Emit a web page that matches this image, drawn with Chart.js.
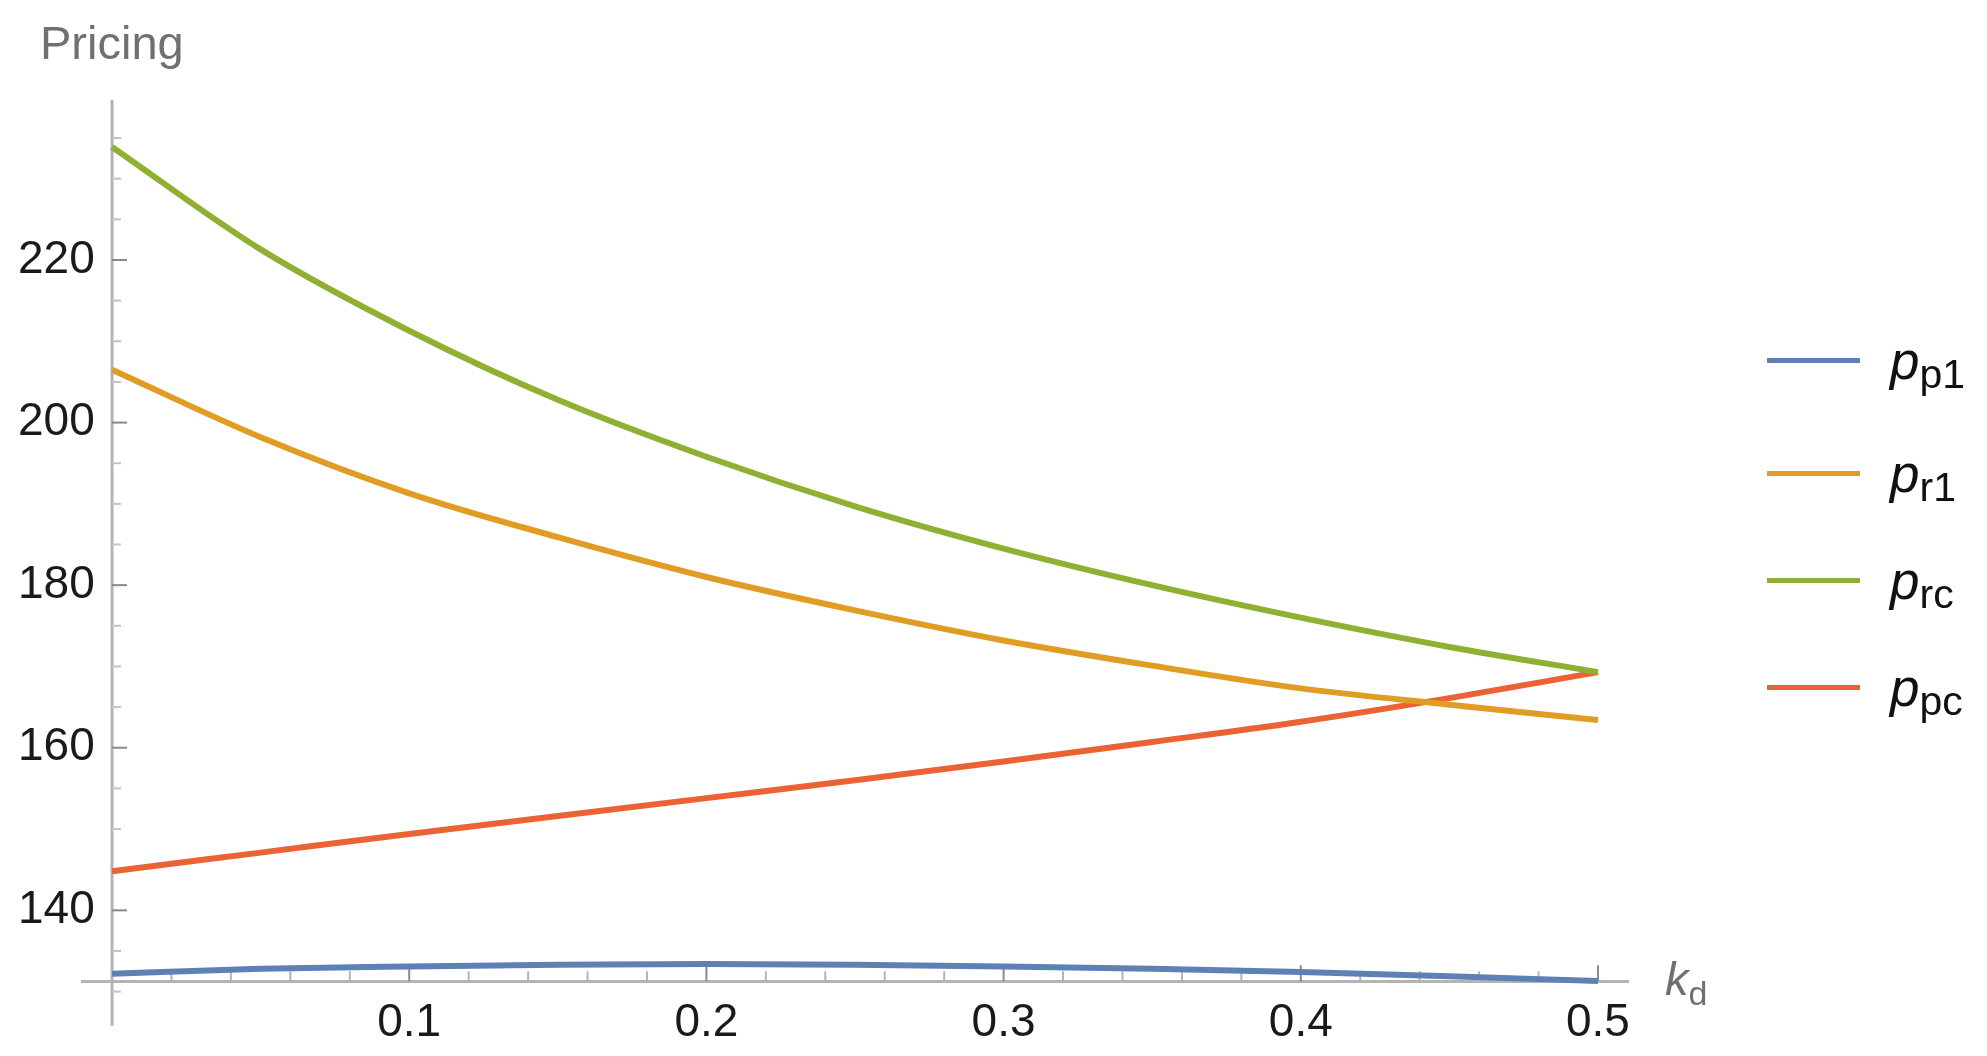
<!DOCTYPE html>
<html>
<head>
<meta charset="utf-8">
<script src="https://cdn.jsdelivr.net/npm/chart.js@4.4.1/dist/chart.umd.min.js"></script>
<style>
  body { margin: 0; background: #fff; font-family: "Liberation Sans", Arial, sans-serif; }
  #wrap { position: relative; width: 1987px; height: 1056px; }
  #chart { position: absolute; left: 0; top: 0; }
  .lbl { position: absolute; color: #707070; line-height: 1; white-space: nowrap; }
  .row { position: absolute; left: 1767px; height: 60px; display: flex; align-items: center; }
  .row .ln { width: 93px; height: 5px; margin-right: 30px; }
  .row .tx { font-size: 53px; font-style: italic; color: #111; line-height: 1; }
  .row .tx sub { font-size: 41px; font-style: normal; position: relative; top: 9px; vertical-align: baseline; }
</style>
</head>
<body>
<div id="wrap">
  <canvas id="chart" width="1987" height="1056"></canvas>
  <div class="lbl" style="left:40px;top:19px;font-size:47px;">Pricing</div>
  <div class="lbl" style="left:1665px;top:955px;font-size:47px;font-style:italic;">k<sub style="font-size:34px;font-style:normal;position:relative;top:10px;vertical-align:baseline;">d</sub></div>
  <div id="legend"></div>
</div>
<script>
  // values, k_d from 0 to 0.5
  const kd = [0, 0.05, 0.1, 0.15, 0.2, 0.25, 0.3, 0.35, 0.4, 0.45, 0.5];
  const pp1 = [132.2, 132.8, 133.1, 133.3, 133.4, 133.3, 133.1, 132.8, 132.4, 131.9, 131.3];
  const pr1 = [206.5, 198.2, 191.3, 185.9, 181.0, 176.9, 173.2, 170.1, 167.3, 165.3, 163.4];
  const prc = [233.9, 221.3, 211.3, 202.8, 195.8, 189.7, 184.5, 180.0, 176.0, 172.4, 169.3];
  const ppc = [144.8, 147.1, 149.4, 151.6, 153.8, 156.0, 158.3, 160.7, 163.2, 166.1, 169.3];

  const seriesNames = ['p1', 'r1', 'rc', 'pc'];
  const seriesColors = ['#5e81b5', '#e19c24', '#8fb032', '#eb6235'];
  const yTicks = [140, 160, 180, 200, 220];
  const xTicks = [0.1, 0.2, 0.3, 0.4, 0.5];
  const xAxisAt = 131.27;

  const pts = ys => kd.map((x, i) => ({x: x, y: ys[i]}));

  // y axis line and Mathematica-like tick marks drawn inward from the axes
  const axisTicks = {
    id: 'axisTicks',
    beforeDatasetsDraw(chart) {
      const {ctx, chartArea, scales: {x, y}} = chart;
      const x0 = x.getPixelForValue(0);
      const y0 = y.getPixelForValue(xAxisAt);
      ctx.save();
      ctx.strokeStyle = '#b4b4b4';
      ctx.lineWidth = 3;
      ctx.beginPath();
      ctx.moveTo(x0, chartArea.top);
      ctx.lineTo(x0, chartArea.bottom);
      ctx.stroke();
      ctx.lineWidth = 2;
      for (let v = 130; v <= 235; v += 5) {
        const py = y.getPixelForValue(v);
        const major = v % 20 === 0;
        ctx.strokeStyle = major ? '#8a8a8a' : '#c4c4c4';
        ctx.beginPath();
        ctx.moveTo(x0, py);
        ctx.lineTo(x0 + (major ? 15 : 9), py);
        ctx.stroke();
      }
      for (let i = 1; i <= 25; i++) {
        const px = x.getPixelForValue(i * 0.02);
        const major = i % 5 === 0;
        ctx.strokeStyle = major ? '#8a8a8a' : '#b4b4b4';
        ctx.beginPath();
        ctx.moveTo(px, y0);
        ctx.lineTo(px, y0 - (major ? 16 : 10));
        ctx.stroke();
      }
      ctx.restore();
    }
  };

  const tickFont = {family: '"Liberation Sans", Arial, sans-serif', size: 46};

  const chart = new Chart(document.getElementById('chart'), {
    type: 'line',
    data: {
      datasets: [pp1, pr1, prc, ppc].map((ys, i) => ({
        label: 'p' + seriesNames[i],
        data: pts(ys),
        borderColor: seriesColors[i],
        borderWidth: 6,
        pointRadius: 0,
        fill: false,
        cubicInterpolationMode: 'monotone'
      }))
    },
    options: {
      responsive: false,
      animation: false,
      layout: { padding: {left: 82, top: 100, right: 359, bottom: 30} },
      plugins: { legend: {display: false}, tooltip: {enabled: false} },
      scales: {
        x: {
          type: 'linear',
          min: -0.0101,
          max: 0.5101,
          position: {y: xAxisAt},
          grid: {display: false, drawTicks: false},
          border: {color: '#b4b4b4', width: 3},
          ticks: {
            stepSize: 0.1,
            includeBounds: false,
            padding: 14,
            color: '#1a1a1a',
            font: tickFont,
            callback: v => xTicks.some(t => Math.abs(t - v) < 1e-6) ? v.toFixed(1) : ''
          }
        },
        y: {
          type: 'linear',
          min: 125.77,
          max: 239.68,
          // labels sit against this position, so shift it left of the drawn axis
          position: {x: -0.0058},
          grid: {display: false, drawTicks: false},
          border: {display: false},
          ticks: {
            stepSize: 20,
            includeBounds: false,
            padding: 0,
            color: '#1a1a1a',
            font: tickFont,
            callback: v => yTicks.includes(v) ? String(v) : ''
          }
        }
      }
    },
    plugins: [axisTicks]
  });

  // legend with subscripts as html
  const legendRows = [360, 473, 580, 687];
  const legend = document.getElementById('legend');
  chart.data.datasets.forEach((ds, i) => {
    const row = document.createElement('div');
    row.className = 'row';
    row.style.top = (legendRows[i] - 30) + 'px';
    row.innerHTML = '<div class="ln" style="background:' + ds.borderColor + '"></div>' +
      '<span class="tx">p<sub>' + seriesNames[i] + '</sub></span>';
    legend.appendChild(row);
  });
</script>
</body>
</html>
